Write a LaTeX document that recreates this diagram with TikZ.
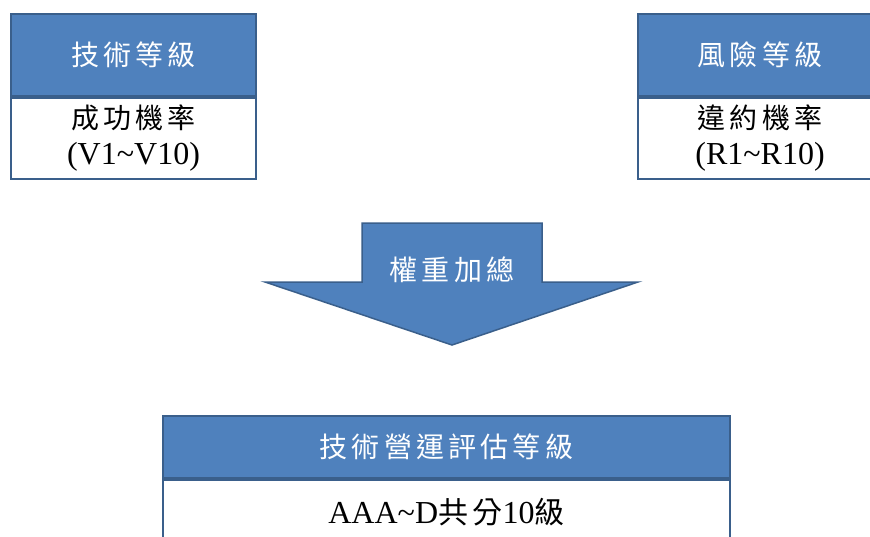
\documentclass[tikz,border=0pt]{standalone}
\usepackage{fontspec}
\setmainfont{Liberation Serif}
\newfontfamily\cjk[LetterSpace=15]{Noto Sans CJK TC}
\usetikzlibrary{positioning}

\definecolor{hdrblue}{HTML}{4F81BD}
\definecolor{hdrline}{HTML}{3A5F8B}

\tikzset{
  hdr/.style={rectangle,draw=hdrline,line width=2pt,fill=hdrblue,text=white,
    font=\fontsize{28}{36}\selectfont\cjk,inner sep=0pt},
  bdy/.style={rectangle,draw=hdrline,line width=2pt,fill=white,text=black,
    font=\fontsize{32}{36}\selectfont,align=center,inner sep=0pt},
  bigarrow/.style={draw=hdrline,fill=hdrblue,line width=1.5pt,line join=miter},
}

\begin{document}
\begin{tikzpicture}[x=1pt,y=-1pt]
\clip (0,0) rectangle (870,536);
\fill[white] (0,0) rectangle (870,536);

% left box
\node[hdr,minimum width=245pt,minimum height=82pt] (tech) at (133.5,55) {技術等級};
\node[bdy,minimum width=245pt,minimum height=81pt,below=0pt of tech] (techbody)
  {{\fontsize{28}{36}\selectfont\cjk 成功機率}\\(V1\textasciitilde V10)};

% right box
\node[hdr,minimum width=245pt,minimum height=82pt] (risk) at (760,55) {風險等級};
\node[bdy,minimum width=245pt,minimum height=81pt,below=0pt of risk] (riskbody)
  {{\fontsize{28}{36}\selectfont\cjk 違約機率}\\(R1\textasciitilde R10)};

% block arrow
\draw[bigarrow] (362,223) -- (542,223) -- (542,282) -- (638,282) -- (452,345)
  -- (265,282) -- (362,282) -- cycle;
\node[font=\fontsize{28}{36}\selectfont\cjk,text=white] (weight) at (452,270) {權重加總};

% bottom box
\node[hdr,minimum width=567pt,minimum height=62pt] (grade) at (446.5,447) {技術營運評估等級};
\node[bdy,minimum width=567pt,minimum height=64pt,below=0pt of grade] (gradebody)
  {AAA\textasciitilde D{\fontsize{30}{36}\selectfont\cjk 共分}10{\fontsize{30}{36}\selectfont\cjk 級}};

\end{tikzpicture}
\end{document}
